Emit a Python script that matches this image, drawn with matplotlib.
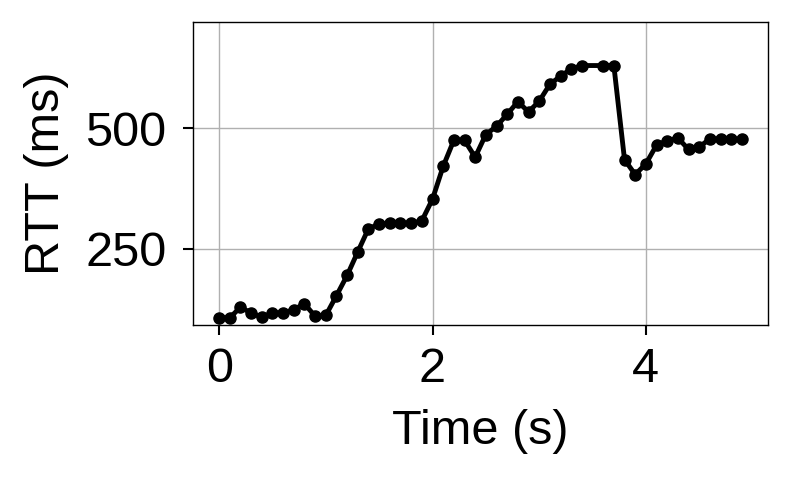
import numpy as np
import matplotlib
matplotlib.use("Agg")
import matplotlib.pyplot as plt

# RTT samples (3.5 s sample missing)
time_s = [0.0, 0.1, 0.2, 0.3, 0.4, 0.5, 0.6, 0.7, 0.8, 0.9,
          1.0, 1.1, 1.2, 1.3, 1.4, 1.5, 1.6, 1.7, 1.8, 1.9,
          2.0, 2.1, 2.2, 2.3, 2.4, 2.5, 2.6, 2.7, 2.8, 2.9,
          3.0, 3.1, 3.2, 3.3, 3.4, 3.6, 3.7, 3.8, 3.9,
          4.0, 4.1, 4.2, 4.3, 4.4, 4.5, 4.6, 4.7, 4.8, 4.9]
rtt_ms = [107, 107, 129, 117, 108, 117, 117, 124, 136, 110,
          112, 153, 195, 244, 292, 301, 303, 303, 303, 308,
          353, 421, 475, 475, 440, 487, 504, 529, 555, 534,
          556, 591, 608, 623, 630, 630, 630, 435, 404,
          426, 465, 474, 480, 456, 461, 478, 477, 477, 477]

plt.rcParams['font.family'] = ['Liberation Sans', 'DejaVu Sans']
plt.rcParams['font.size'] = 35

fig = plt.figure(figsize=(7.92, 4.8), dpi=100)
ax = fig.add_axes([0.2437, 0.3229, 0.726, 0.631])

ax.plot(time_s, rtt_ms, color='black', linewidth=3.5, marker='o', markersize=8)

ax.set_ylim(92, 720)
ax.set_xticks([0, 2, 4])
ax.set_yticks([250, 500])
ax.grid(True, color='#b0b0b0', linewidth=1)
ax.set_axisbelow(True)
ax.tick_params(axis='x', length=7, width=1.5, pad=9)
ax.tick_params(axis='y', length=7, width=1.5, pad=12)
for s in ax.spines.values():
    s.set_linewidth(1.0)

ax.set_xlabel('Time (s)', labelpad=12)
ax.set_ylabel('RTT (ms)', labelpad=12)

fig.savefig('out.png', dpi=100)
